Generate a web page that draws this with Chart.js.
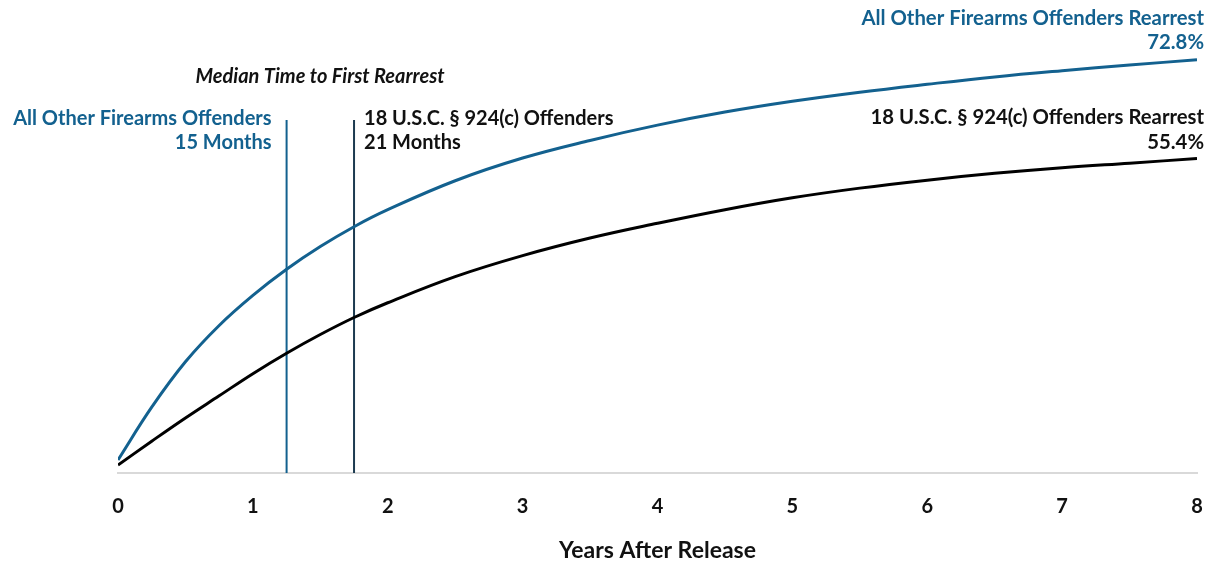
<!DOCTYPE html>
<html>
<head>
<meta charset="utf-8">
<script src="https://cdn.jsdelivr.net/npm/chart.js@4"></script>
<style>
  html, body { margin: 0; padding: 0; background: #fff; }
  #wrap { width: 1212px; height: 564px; }
</style>
</head>
<body>
<div id="wrap"><canvas id="rearrest-chart" width="1212" height="564"></canvas></div>
<script>
// years after release (quarter steps early on, then half years)
const years = [0, 0.25, 0.5, 0.75, 1, 1.25, 1.5, 1.75, 2, 2.5, 3, 3.5, 4, 4.5, 5, 5.5, 6, 6.5, 7, 7.5, 8];
// cumulative rearrest %, all other firearms offenders
const otherRate = [2.3, 11.6, 19.6, 26.0, 31.3, 35.9, 39.9, 43.4, 46.4, 51.5, 55.5, 58.6, 61.3, 63.6, 65.5, 67.1, 68.5, 69.8, 70.9, 71.9, 72.8];
// cumulative rearrest %, 18 U.S.C. § 924(c) offenders
const c924Rate = [1.4, 5.6, 9.7, 13.6, 17.5, 21.1, 24.4, 27.4, 30.0, 34.6, 38.3, 41.4, 44.0, 46.4, 48.5, 50.2, 51.6, 52.8, 53.8, 54.6, 55.4];
const xTicks = [0, 1, 2, 3, 4, 5, 6, 7, 8];
// median time to first rearrest, months
const medianOther = 15;
const median924 = 21;

const BLUE = '#13618f';
const NAVY = '#1c3a50';
const BLACK = '#000000';
const FONT = 'Lato, "Open Sans", sans-serif';

function toPoints(vals) {
  return years.map((y, i) => ({ x: y, y: vals[i] }));
}
function medianLine(months) {
  return [{ x: months / 12, y: 0 }, { x: months / 12, y: 62.2 }];
}

// labels drawn next to the lines
const annotations = {
  id: 'annotations',
  afterDatasetsDraw(chart) {
    const ctx = chart.ctx;
    const xs = chart.scales.x, ys = chart.scales.y;
    ctx.save();
    ctx.textBaseline = 'middle';

    const xo = xs.getPixelForValue(medianOther / 12);
    const xc = xs.getPixelForValue(median924 / 12);

    ctx.font = 'italic bold 20px ' + FONT;
    ctx.fillStyle = '#111';
    ctx.textAlign = 'center';
    ctx.fillText('Median Time to First Rearrest', 320, 77);

    ctx.font = 'bold 20px ' + FONT;
    ctx.fillStyle = BLUE;
    ctx.textAlign = 'right';
    ctx.fillText('All Other Firearms Offenders', xo - 15, 119);
    ctx.fillText(medianOther + ' Months', xo - 15, 143);

    ctx.fillStyle = '#111';
    ctx.textAlign = 'left';
    ctx.fillText('18 U.S.C. § 924(c) Offenders', xc + 10, 119);
    ctx.fillText(median924 + ' Months', xc + 10, 143);

    const right = chart.width - 8;
    const last = years.length - 1;
    ctx.font = 'bold 20.3px ' + FONT;
    ctx.textAlign = 'right';
    ctx.fillStyle = BLUE;
    let yb = ys.getPixelForValue(otherRate[last]);
    ctx.fillText('All Other Firearms Offenders Rearrest', right, yb - 41);
    ctx.fillText(otherRate[last].toFixed(1) + '%', right, yb - 17);

    ctx.fillStyle = '#111';
    let yk = ys.getPixelForValue(c924Rate[last]);
    ctx.fillText('18 U.S.C. § 924(c) Offenders Rearrest', right, yk - 41);
    ctx.fillText(c924Rate[last].toFixed(1) + '%', right, yk - 16);
    ctx.restore();
  }
};

const ctx = document.getElementById('rearrest-chart').getContext('2d');
const chart = new Chart(ctx, {
  type: 'line',
  data: {
    datasets: [
      {
        label: 'All Other Firearms Offenders',
        data: toPoints(otherRate),
        borderColor: BLUE,
        borderWidth: 3,
        pointRadius: 0,
        tension: 0.4
      },
      {
        label: '18 U.S.C. § 924(c) Offenders',
        data: toPoints(c924Rate),
        borderColor: BLACK,
        borderWidth: 3,
        pointRadius: 0,
        tension: 0.4
      },
      {
        label: 'median other',
        data: medianLine(medianOther),
        borderColor: BLUE,
        borderWidth: 2,
        pointRadius: 0
      },
      {
        label: 'median 924c',
        data: medianLine(median924),
        borderColor: NAVY,
        borderWidth: 2,
        pointRadius: 0
      }
    ]
  },
  options: {
    responsive: false,
    animation: false,
    layout: { padding: { left: 118, right: 15, top: 19, bottom: 0 } },
    plugins: {
      legend: { display: false },
      tooltip: { enabled: false }
    },
    scales: {
      x: {
        type: 'linear',
        min: 0,
        max: 8,
        afterFit(scale) {
          scale.height = 91;
          scale.paddingLeft = 0;
          scale.paddingRight = 0;
        },
        afterBuildTicks(scale) { scale.ticks = xTicks.map(v => ({ value: v })); },
        grid: { display: false },
        border: { display: true, color: '#d9d9d9', width: 2 },
        ticks: {
          padding: 14,
          color: '#111',
          font: { family: FONT, size: 20, weight: 'bold' }
        },
        title: {
          display: true,
          text: 'Years After Release',
          color: '#111',
          font: { family: FONT, size: 23, weight: 'bold' },
          padding: { top: 0, bottom: 0 }
        }
      },
      y: {
        display: false,
        min: 0,
        max: 80
      }
    }
  },
  plugins: [annotations]
});
</script>
</body>
</html>
